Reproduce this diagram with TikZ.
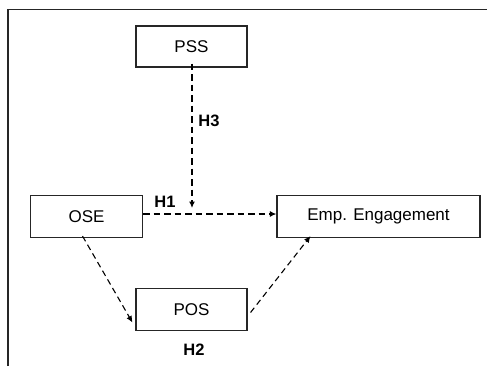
\documentclass[tikz,border=0pt]{standalone}
\usepackage{fontspec}
\setmainfont{Liberation Sans}
\usetikzlibrary{arrows.meta}
\begin{document}
\begin{tikzpicture}[x=1pt,y=-1pt,
  box/.style={draw=black!85,line width=1.1pt,inner sep=0pt,font=\fontsize{17}{19}\selectfont},
  link/.style={line width=1.6pt,dash pattern=on 6.5pt off 4pt,-{Latex[length=6.5pt,width=6pt]}},
  slink/.style={line width=1.1pt,dash pattern=on 6pt off 4pt,-{Latex[length=6.5pt,width=6pt]}},
  hyp/.style={font=\bfseries\fontsize{16.5}{18}\selectfont,inner sep=0pt}]
\useasboundingbox (0,0) rectangle (487,367);
% open frame: top and left edges only
\draw[line width=1.6pt,black!85] (8,366) -- (8,9.5) -- (487,9.5);
% construct boxes
\node[box,minimum width=111pt,minimum height=41pt] (pss) at (191.5,46.5) {PSS};
\node[box,minimum width=112pt,minimum height=42pt] (ose) at (86.5,216.5) {OSE};
\node[box,minimum width=203pt,minimum height=42pt] (emp) at (378.5,216.5) {Emp. Engagement};
\node[box,minimum width=111pt,minimum height=42pt] (pos) at (191.5,309.5) {POS};
% hypothesised paths
\coordinate (top) at ([xshift=0.5pt,yshift=4pt]pss.south);
\coordinate (mod) at (top |- 0,208);
\draw[link] (ose.east |- 0,214) -- (emp.west |- 0,214);
\draw[link] (top) -- (mod);
\draw[slink] ([xshift=-4pt,yshift=2pt]ose.south) -- ([xshift=-3pt,yshift=-13pt]pos.west);
\draw[slink] ([xshift=3pt,yshift=-3pt]pos.east) -- ([xshift=-68pt,yshift=2pt]emp.south);
% hypothesis labels
\node[hyp] (h1) at (165,202) {H1};
\node[hyp] (h2) at (194,350) {H2};
\node[hyp] (h3) at (209,121) {H3};
\end{tikzpicture}
\end{document}
